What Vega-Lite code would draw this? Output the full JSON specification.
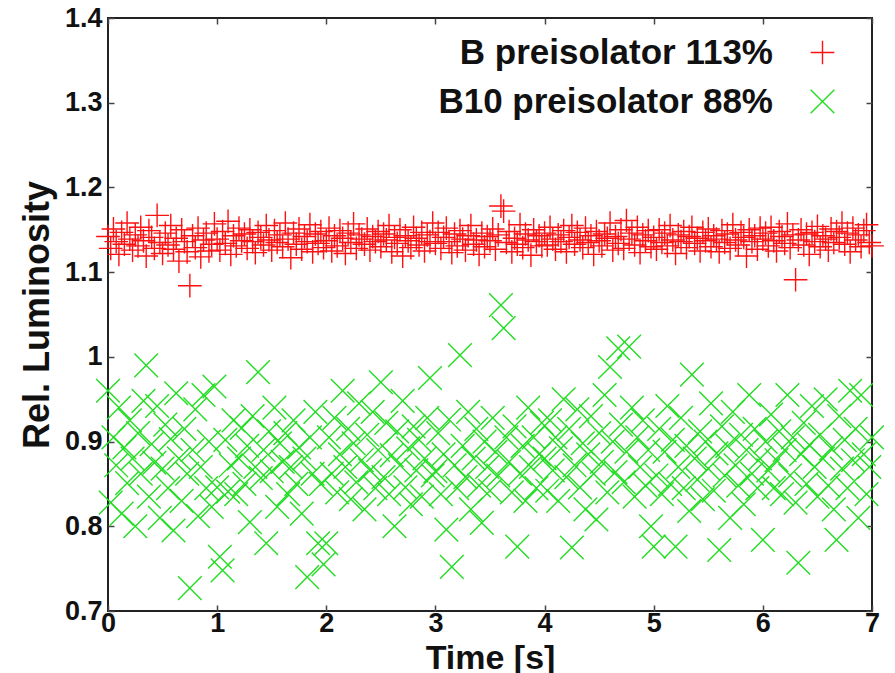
{
"$schema": "https://vega.github.io/schema/vega-lite/v6.json",
"width": 764, "height": 593,
"autosize": {"type": "none"},
"padding": {"left": 108, "top": 18, "right": 23, "bottom": 62},
"background": "white",
"config": {"view": {"stroke": "#222", "strokeWidth": 2}, "font": "Liberation Sans"},
"datasets": {"lum": [
{"t":0.000,"B":1.142,"B10":0.960},{"t":0.025,"B":1.128,"B10":0.828},{"t":0.050,"B":1.151,"B10":0.905},{"t":0.075,"B":1.136,"B10":0.872},{"t":0.100,"B":1.121,"B10":0.940},{"t":0.125,"B":1.147,"B10":0.815},{"t":0.150,"B":1.133,"B10":0.893},{"t":0.175,"B":1.158,"B10":0.851},{"t":0.200,"B":1.139,"B10":0.925},{"t":0.225,"B":1.126,"B10":0.880},
{"t":0.250,"B":1.144,"B10":0.800},{"t":0.275,"B":1.131,"B10":0.910},{"t":0.300,"B":1.153,"B10":0.862},{"t":0.325,"B":1.137,"B10":0.948},{"t":0.350,"B":1.119,"B10":0.990},{"t":0.375,"B":1.149,"B10":0.835},{"t":0.400,"B":1.141,"B10":0.897},{"t":0.425,"B":1.128,"B10":0.875},{"t":0.450,"B":1.167,"B10":0.942},{"t":0.475,"B":1.135,"B10":0.810},
{"t":0.500,"B":1.122,"B10":0.868},{"t":0.525,"B":1.146,"B10":0.920},{"t":0.550,"B":1.132,"B10":0.845},{"t":0.575,"B":1.155,"B10":0.903},{"t":0.600,"B":1.127,"B10":0.795},{"t":0.625,"B":1.140,"B10":0.957},{"t":0.650,"B":1.113,"B10":0.880},{"t":0.675,"B":1.150,"B10":0.830},{"t":0.700,"B":1.136,"B10":0.915},{"t":0.725,"B":1.124,"B10":0.862},
{"t":0.750,"B":1.084,"B10":0.727},{"t":0.775,"B":1.143,"B10":0.890},{"t":0.800,"B":1.129,"B10":0.938},{"t":0.825,"B":1.152,"B10":0.812},{"t":0.850,"B":1.118,"B10":0.870},{"t":0.875,"B":1.138,"B10":0.955},{"t":0.900,"B":1.146,"B10":0.845},{"t":0.925,"B":1.125,"B10":0.900},{"t":0.950,"B":1.133,"B10":0.823},{"t":0.975,"B":1.157,"B10":0.965},
{"t":1.000,"B":1.139,"B10":0.846},{"t":1.025,"B":1.126,"B10":0.764},{"t":1.050,"B":1.148,"B10":0.748},{"t":1.075,"B":1.134,"B10":0.902},{"t":1.100,"B":1.160,"B10":0.841},{"t":1.125,"B":1.121,"B10":0.872},{"t":1.150,"B":1.143,"B10":0.925},{"t":1.175,"B":1.131,"B10":0.838},{"t":1.200,"B":1.152,"B10":0.880},{"t":1.225,"B":1.137,"B10":0.916},
{"t":1.250,"B":1.145,"B10":0.850},{"t":1.275,"B":1.128,"B10":0.895},{"t":1.300,"B":1.150,"B10":0.805},{"t":1.325,"B":1.136,"B10":0.930},{"t":1.350,"B":1.123,"B10":0.870},{"t":1.375,"B":1.147,"B10":0.982},{"t":1.400,"B":1.141,"B10":0.857},{"t":1.425,"B":1.132,"B10":0.890},{"t":1.450,"B":1.155,"B10":0.780},{"t":1.475,"B":1.138,"B10":0.912},
{"t":1.500,"B":1.126,"B10":0.865},{"t":1.525,"B":1.149,"B10":0.940},{"t":1.550,"B":1.135,"B10":0.823},{"t":1.575,"B":1.144,"B10":0.898},{"t":1.600,"B":1.130,"B10":0.876},{"t":1.625,"B":1.158,"B10":0.910},{"t":1.650,"B":1.139,"B10":0.838},{"t":1.675,"B":1.117,"B10":0.870},{"t":1.700,"B":1.146,"B10":0.925},{"t":1.725,"B":1.133,"B10":0.850},
{"t":1.750,"B":1.151,"B10":0.893},{"t":1.775,"B":1.127,"B10":0.815},{"t":1.800,"B":1.142,"B10":0.880},{"t":1.825,"B":1.136,"B10":0.740},{"t":1.850,"B":1.156,"B10":0.905},{"t":1.875,"B":1.124,"B10":0.862},{"t":1.900,"B":1.145,"B10":0.935},{"t":1.925,"B":1.134,"B10":0.780},{"t":1.950,"B":1.148,"B10":0.850},{"t":1.975,"B":1.129,"B10":0.755},
{"t":2.000,"B":1.137,"B10":0.780},{"t":2.025,"B":1.152,"B10":0.905},{"t":2.050,"B":1.125,"B10":0.862},{"t":2.075,"B":1.143,"B10":0.928},{"t":2.100,"B":1.131,"B10":0.840},{"t":2.125,"B":1.149,"B10":0.885},{"t":2.150,"B":1.140,"B10":0.960},{"t":2.175,"B":1.122,"B10":0.870},{"t":2.200,"B":1.146,"B10":0.915},{"t":2.225,"B":1.135,"B10":0.832},
{"t":2.250,"B":1.157,"B10":0.898},{"t":2.275,"B":1.128,"B10":0.852},{"t":2.300,"B":1.144,"B10":0.945},{"t":2.325,"B":1.139,"B10":0.878},{"t":2.350,"B":1.133,"B10":0.820},{"t":2.375,"B":1.151,"B10":0.908},{"t":2.400,"B":1.126,"B10":0.866},{"t":2.425,"B":1.142,"B10":0.935},{"t":2.450,"B":1.136,"B10":0.845},{"t":2.475,"B":1.148,"B10":0.890},
{"t":2.500,"B":1.130,"B10":0.970},{"t":2.525,"B":1.145,"B10":0.858},{"t":2.550,"B":1.138,"B10":0.922},{"t":2.575,"B":1.155,"B10":0.838},{"t":2.600,"B":1.124,"B10":0.884},{"t":2.625,"B":1.141,"B10":0.800},{"t":2.650,"B":1.134,"B10":0.912},{"t":2.675,"B":1.150,"B10":0.872},{"t":2.700,"B":1.119,"B10":0.948},{"t":2.725,"B":1.143,"B10":0.846},
{"t":2.750,"B":1.137,"B10":0.892},{"t":2.775,"B":1.129,"B10":0.826},{"t":2.800,"B":1.153,"B10":0.918},{"t":2.825,"B":1.140,"B10":0.866},{"t":2.850,"B":1.132,"B10":0.902},{"t":2.875,"B":1.147,"B10":0.835},{"t":2.900,"B":1.125,"B10":0.880},{"t":2.925,"B":1.144,"B10":0.928},{"t":2.950,"B":1.136,"B10":0.975},{"t":2.975,"B":1.158,"B10":0.860},
{"t":3.000,"B":1.134,"B10":0.865},{"t":3.025,"B":1.147,"B10":0.910},{"t":3.050,"B":1.128,"B10":0.838},{"t":3.075,"B":1.141,"B10":0.885},{"t":3.100,"B":1.152,"B10":0.796},{"t":3.125,"B":1.136,"B10":0.926},{"t":3.150,"B":1.123,"B10":0.752},{"t":3.175,"B":1.145,"B10":0.872},{"t":3.200,"B":1.131,"B10":0.845},{"t":3.225,"B":1.149,"B10":1.002},
{"t":3.250,"B":1.139,"B10":0.895},{"t":3.275,"B":1.126,"B10":0.858},{"t":3.300,"B":1.143,"B10":0.935},{"t":3.325,"B":1.155,"B10":0.820},{"t":3.350,"B":1.133,"B10":0.880},{"t":3.375,"B":1.138,"B10":0.915},{"t":3.400,"B":1.121,"B10":0.848},{"t":3.425,"B":1.146,"B10":0.804},{"t":3.450,"B":1.130,"B10":0.900},{"t":3.475,"B":1.142,"B10":0.870},
{"t":3.500,"B":1.137,"B10":0.842},{"t":3.525,"B":1.151,"B10":0.928},{"t":3.550,"B":1.127,"B10":0.888},{"t":3.575,"B":1.144,"B10":0.860},{"t":3.600,"B":1.178,"B10":1.061},{"t":3.625,"B":1.172,"B10":1.034},{"t":3.650,"B":1.135,"B10":0.905},{"t":3.675,"B":1.148,"B10":0.876},{"t":3.700,"B":1.124,"B10":0.840},{"t":3.725,"B":1.140,"B10":0.918},
{"t":3.750,"B":1.133,"B10":0.776},{"t":3.775,"B":1.156,"B10":0.862},{"t":3.800,"B":1.129,"B10":0.895},{"t":3.825,"B":1.145,"B10":0.830},{"t":3.850,"B":1.138,"B10":0.940},{"t":3.875,"B":1.120,"B10":0.870},{"t":3.900,"B":1.150,"B10":0.905},{"t":3.925,"B":1.136,"B10":0.845},{"t":3.950,"B":1.143,"B10":0.885},{"t":3.975,"B":1.131,"B10":0.922},
{"t":4.000,"B":1.146,"B10":0.880},{"t":4.025,"B":1.132,"B10":0.842},{"t":4.050,"B":1.153,"B10":0.925},{"t":4.075,"B":1.139,"B10":0.866},{"t":4.100,"B":1.127,"B10":0.905},{"t":4.125,"B":1.144,"B10":0.830},{"t":4.150,"B":1.136,"B10":0.892},{"t":4.175,"B":1.149,"B10":0.950},{"t":4.200,"B":1.124,"B10":0.858},{"t":4.225,"B":1.141,"B10":0.915},
{"t":4.250,"B":1.155,"B10":0.775},{"t":4.275,"B":1.133,"B10":0.872},{"t":4.300,"B":1.147,"B10":0.938},{"t":4.325,"B":1.138,"B10":0.846},{"t":4.350,"B":1.129,"B10":0.898},{"t":4.375,"B":1.152,"B10":0.820},{"t":4.400,"B":1.135,"B10":0.885},{"t":4.425,"B":1.143,"B10":0.930},{"t":4.450,"B":1.121,"B10":0.862},{"t":4.475,"B":1.148,"B10":0.808},
{"t":4.500,"B":1.137,"B10":0.910},{"t":4.525,"B":1.131,"B10":0.876},{"t":4.550,"B":1.145,"B10":0.955},{"t":4.575,"B":1.140,"B10":0.840},{"t":4.600,"B":1.158,"B10":0.988},{"t":4.625,"B":1.126,"B10":0.900},{"t":4.650,"B":1.142,"B10":0.864},{"t":4.675,"B":1.134,"B10":1.010},{"t":4.700,"B":1.150,"B10":0.920},{"t":4.725,"B":1.128,"B10":0.852},
{"t":4.750,"B":1.161,"B10":0.888},{"t":4.775,"B":1.139,"B10":1.012},{"t":4.800,"B":1.146,"B10":0.940},{"t":4.825,"B":1.132,"B10":0.835},{"t":4.850,"B":1.153,"B10":0.905},{"t":4.875,"B":1.123,"B10":0.870},{"t":4.900,"B":1.144,"B10":0.925},{"t":4.925,"B":1.137,"B10":0.848},{"t":4.950,"B":1.149,"B10":0.890},{"t":4.975,"B":1.130,"B10":0.800},
{"t":5.000,"B":1.141,"B10":0.776},{"t":5.025,"B":1.127,"B10":0.860},{"t":5.050,"B":1.150,"B10":0.915},{"t":5.075,"B":1.135,"B10":0.838},{"t":5.100,"B":1.146,"B10":0.888},{"t":5.125,"B":1.131,"B10":0.942},{"t":5.150,"B":1.155,"B10":0.850},{"t":5.175,"B":1.138,"B10":0.902},{"t":5.200,"B":1.122,"B10":0.776},{"t":5.225,"B":1.144,"B10":0.870},
{"t":5.250,"B":1.136,"B10":0.928},{"t":5.275,"B":1.148,"B10":0.845},{"t":5.300,"B":1.129,"B10":0.895},{"t":5.325,"B":1.142,"B10":0.818},{"t":5.350,"B":1.153,"B10":0.979},{"t":5.375,"B":1.134,"B10":0.880},{"t":5.400,"B":1.140,"B10":0.855},{"t":5.425,"B":1.125,"B10":0.912},{"t":5.450,"B":1.147,"B10":0.832},{"t":5.475,"B":1.137,"B10":0.900},
{"t":5.500,"B":1.151,"B10":0.868},{"t":5.525,"B":1.130,"B10":0.945},{"t":5.550,"B":1.143,"B10":0.842},{"t":5.575,"B":1.139,"B10":0.886},{"t":5.600,"B":1.124,"B10":0.772},{"t":5.625,"B":1.149,"B10":0.918},{"t":5.650,"B":1.135,"B10":0.860},{"t":5.675,"B":1.145,"B10":0.895},{"t":5.700,"B":1.128,"B10":0.810},{"t":5.725,"B":1.156,"B10":0.935},
{"t":5.750,"B":1.138,"B10":0.872},{"t":5.775,"B":1.132,"B10":0.848},{"t":5.800,"B":1.147,"B10":0.908},{"t":5.825,"B":1.141,"B10":0.826},{"t":5.850,"B":1.119,"B10":0.890},{"t":5.875,"B":1.150,"B10":0.955},{"t":5.900,"B":1.136,"B10":0.862},{"t":5.925,"B":1.143,"B10":0.915},{"t":5.950,"B":1.127,"B10":0.845},{"t":5.975,"B":1.152,"B10":0.880},
{"t":6.000,"B":1.139,"B10":0.784},{"t":6.025,"B":1.146,"B10":0.900},{"t":6.050,"B":1.131,"B10":0.866},{"t":6.075,"B":1.153,"B10":0.932},{"t":6.100,"B":1.137,"B10":0.845},{"t":6.125,"B":1.125,"B10":0.878},{"t":6.150,"B":1.148,"B10":0.912},{"t":6.175,"B":1.142,"B10":0.838},{"t":6.200,"B":1.134,"B10":0.890},{"t":6.225,"B":1.157,"B10":0.955},
{"t":6.250,"B":1.129,"B10":0.860},{"t":6.275,"B":1.144,"B10":0.905},{"t":6.300,"B":1.091,"B10":0.828},{"t":6.325,"B":1.138,"B10":0.757},{"t":6.350,"B":1.150,"B10":0.885},{"t":6.375,"B":1.132,"B10":0.922},{"t":6.400,"B":1.145,"B10":0.850},{"t":6.425,"B":1.121,"B10":0.896},{"t":6.450,"B":1.147,"B10":0.942},{"t":6.475,"B":1.136,"B10":0.870},
{"t":6.500,"B":1.154,"B10":0.835},{"t":6.525,"B":1.130,"B10":0.908},{"t":6.550,"B":1.143,"B10":0.880},{"t":6.575,"B":1.139,"B10":0.950},{"t":6.600,"B":1.126,"B10":0.848},{"t":6.625,"B":1.151,"B10":0.892},{"t":6.650,"B":1.135,"B10":0.820},{"t":6.675,"B":1.148,"B10":0.784},{"t":6.700,"B":1.141,"B10":0.930},{"t":6.725,"B":1.158,"B10":0.868},
{"t":6.750,"B":1.133,"B10":0.902},{"t":6.775,"B":1.146,"B10":0.845},{"t":6.800,"B":1.124,"B10":0.960},{"t":6.825,"B":1.152,"B10":0.878},{"t":6.850,"B":1.138,"B10":0.915},{"t":6.875,"B":1.144,"B10":0.810},{"t":6.900,"B":1.130,"B10":0.955},{"t":6.925,"B":1.149,"B10":0.885},{"t":6.950,"B":1.156,"B10":0.838},{"t":6.975,"B":1.135,"B10":0.870},{"t":7.000,"B":1.131,"B10":0.905}
]},
"data": {"name": "lum"},
"transform": [{"fold": ["B", "B10"], "as": ["series", "lum"]}],
"layer": [
 {
  "mark": {"type": "point", "filled": false, "size": 560, "strokeWidth": 1.4, "opacity": 1},
  "encoding": {
   "x": {"field": "t", "type": "quantitative",
     "scale": {"domain": [0, 7], "nice": false, "zero": false},
     "axis": {"orient": "bottom", "values": [0,1,2,3,4,5,6,7], "format": "d", "tickSize": -6, "tickColor": "#444", "tickWidth": 1.5,
       "domain": false, "grid": false, "labelFlush": false, "labelOverlap": false, "labelBound": false,
       "labelFont": "Liberation Sans", "labelFontWeight": "bold", "labelFontSize": 27, "labelColor": "#111", "labelPadding": 5,
       "title": "Time [s]", "titleFont": "Liberation Sans", "titleFontWeight": "bold", "titleFontSize": 34, "titleColor": "#111", "titlePadding": 5}},
   "y": {"field": "lum", "type": "quantitative",
     "scale": {"domain": [0.7, 1.4], "nice": false, "zero": false},
     "axis": {"orient": "left", "values": [0.7,0.8,0.9,1.0,1.1,1.2,1.3,1.4], "format": ".1~f", "tickSize": -6, "tickColor": "#444", "tickWidth": 1.5,
       "domain": false, "grid": false, "labelFlush": false, "labelOverlap": false, "labelBound": false,
       "labelFont": "Liberation Sans", "labelFontWeight": "bold", "labelFontSize": 27, "labelColor": "#111", "labelPadding": 12,
       "title": "Rel. Luminosity", "titleFont": "Liberation Sans", "titleFontWeight": "bold", "titleFontSize": 36, "titleColor": "#111", "titlePadding": 8}},
   "color": {"field": "series", "type": "nominal",
     "scale": {"domain": ["B", "B10"], "range": ["#ff1010", "#22dd22"]},
     "legend": {"orient": "none", "legendX": 697, "legendY": 17, "padding": 0, "title": null, "symbolSize": 560, "symbolStrokeWidth": 1.4,
       "labelAlign": "right", "labelOffset": -67, "labelFont": "Liberation Sans", "labelFontWeight": "bold", "labelFontSize": 35, "labelColor": "#111",
       "rowPadding": 13, "labelLimit": 0, "labelExpr": "datum.label == 'B' ? 'B preisolator 113%' : 'B10 preisolator 88%'"}},
   "shape": {"field": "series", "type": "nominal",
     "scale": {"domain": ["B", "B10"], "range": ["M-1,0L1,0M0,-1L0,1", "M-1,-1L1,1M-1,1L1,-1"]},
     "legend": {"orient": "none", "legendX": 697, "legendY": 17, "padding": 0, "title": null, "symbolSize": 560, "symbolStrokeWidth": 1.4,
       "labelAlign": "right", "labelOffset": -67, "labelFont": "Liberation Sans", "labelFontWeight": "bold", "labelFontSize": 35, "labelColor": "#111",
       "rowPadding": 13, "labelLimit": 0, "labelExpr": "datum.label == 'B' ? 'B preisolator 113%' : 'B10 preisolator 88%'"}}
  }
 },
 {
  "mark": {"type": "point", "opacity": 0},
  "encoding": {
   "x": {"field": "t", "type": "quantitative",
     "axis": {"orient": "top", "values": [0,1,2,3,4,5,6,7], "tickSize": -6, "tickColor": "#444", "tickWidth": 1.5, "domain": false, "grid": false, "labels": false, "title": null}},
   "y": {"field": "lum", "type": "quantitative",
     "axis": {"orient": "right", "values": [0.7,0.8,0.9,1.0,1.1,1.2,1.3,1.4], "tickSize": -6, "tickColor": "#444", "tickWidth": 1.5, "domain": false, "grid": false, "labels": false, "title": null}}
  }
 }
],
"resolve": {"axis": {"x": "independent", "y": "independent"}}
}
